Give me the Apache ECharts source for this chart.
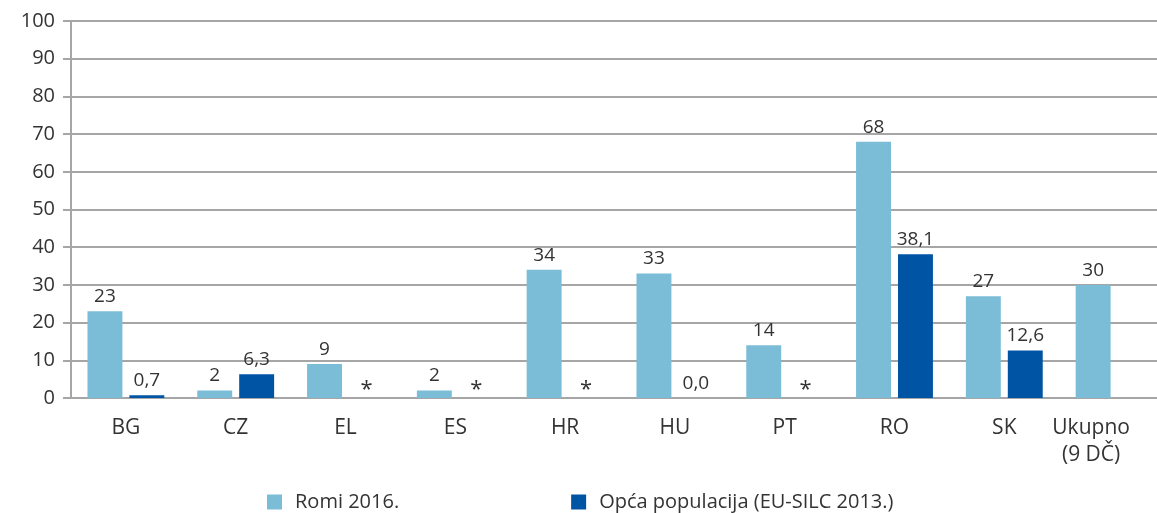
<!DOCTYPE html>
<html>
<head>
<meta charset="utf-8">
<script src="https://cdn.jsdelivr.net/npm/echarts@6/dist/echarts.min.js"></script>
<style>
  html, body { margin: 0; padding: 0; background: #fff; }
  #chart { width: 1157px; height: 513px; }
</style>
</head>
<body>
<div id="chart"></div>
<script>
// categories
var countries = ["BG", "CZ", "EL", "ES", "HR", "HU", "PT", "RO", "SK", "Ukupno\n(9 DČ)"];
// Romi 2016.
var romi = [23, 2, 9, 2, 34, 33, 14, 68, 27, 30];
// Opća populacija, '*' = no data shown as asterisk
var opca = [0.7, 6.3, "*", "*", "*", 0.0, "*", 38.1, 12.6, null];
var yTicks = [0, 10, 20, 30, 40, 50, 60, 70, 80, 90, 100];

var font = "Open Sans";
function fmt(v) { return v.toFixed(1).replace(".", ","); }

var opcaData = opca.map(function (v) {
  if (v === "*") return { value: 0, label: { formatter: "*", fontSize: 22, offset: [0, 8] } };
  if (v === null) return null;
  return { value: v, label: { formatter: fmt(v) } };
});

// last label sits under the single bar
var catData = countries.map(function (c, i) {
  if (i === countries.length - 1) return { value: c, textStyle: { padding: [0, 46, 0, 0] } };
  return c;
});

var chart = echarts.init(document.getElementById("chart"));
chart.setOption({
  animation: false,
  textStyle: { fontFamily: font, color: "#333" },
  grid: { left: 71, width: 1098, top: 21, height: 377, outerBoundsMode: "none", containLabel: false },
  legend: {
    top: 487,
    left: 262,
    itemGap: 172,
    itemWidth: 15,
    itemHeight: 15,
    icon: "rect",
    textStyle: { fontSize: 20, color: "#333", fontFamily: font, padding: [0, 0, 0, 8] },
    data: ["Romi 2016.", "Opća populacija (EU-SILC 2013.)"]
  },
  xAxis: {
    type: "category",
    data: catData,
    axisLine: { lineStyle: { color: "#a6a6a6", width: 2 } },
    axisTick: { show: false },
    axisLabel: { fontSize: 21, color: "#333", margin: 17, lineHeight: 27 }
  },
  yAxis: {
    type: "value",
    min: yTicks[0],
    max: yTicks[yTicks.length - 1],
    interval: 10,
    axisLine: { show: true, lineStyle: { color: "#a6a6a6", width: 2 } },
    axisTick: { show: true, length: 8, lineStyle: { color: "#a6a6a6", width: 2 } },
    splitLine: { lineStyle: { color: "#a6a6a6", width: 2 } },
    axisLabel: { fontSize: 20, color: "#333", margin: 16 }
  },
  series: [
    {
      name: "Romi 2016.",
      type: "bar",
      data: romi,
      itemStyle: { color: "#7bbcd7" },
      barGap: "20%",
      barCategoryGap: "30%",
      label: { show: true, position: "top", distance: 5, fontSize: 19, color: "#333" }
    },
    {
      name: "Opća populacija (EU-SILC 2013.)",
      type: "bar",
      data: opcaData,
      itemStyle: { color: "#0054a4" },
      label: { show: true, position: "top", distance: 5, fontSize: 19, color: "#333" }
    }
  ]
});
</script>
</body>
</html>
